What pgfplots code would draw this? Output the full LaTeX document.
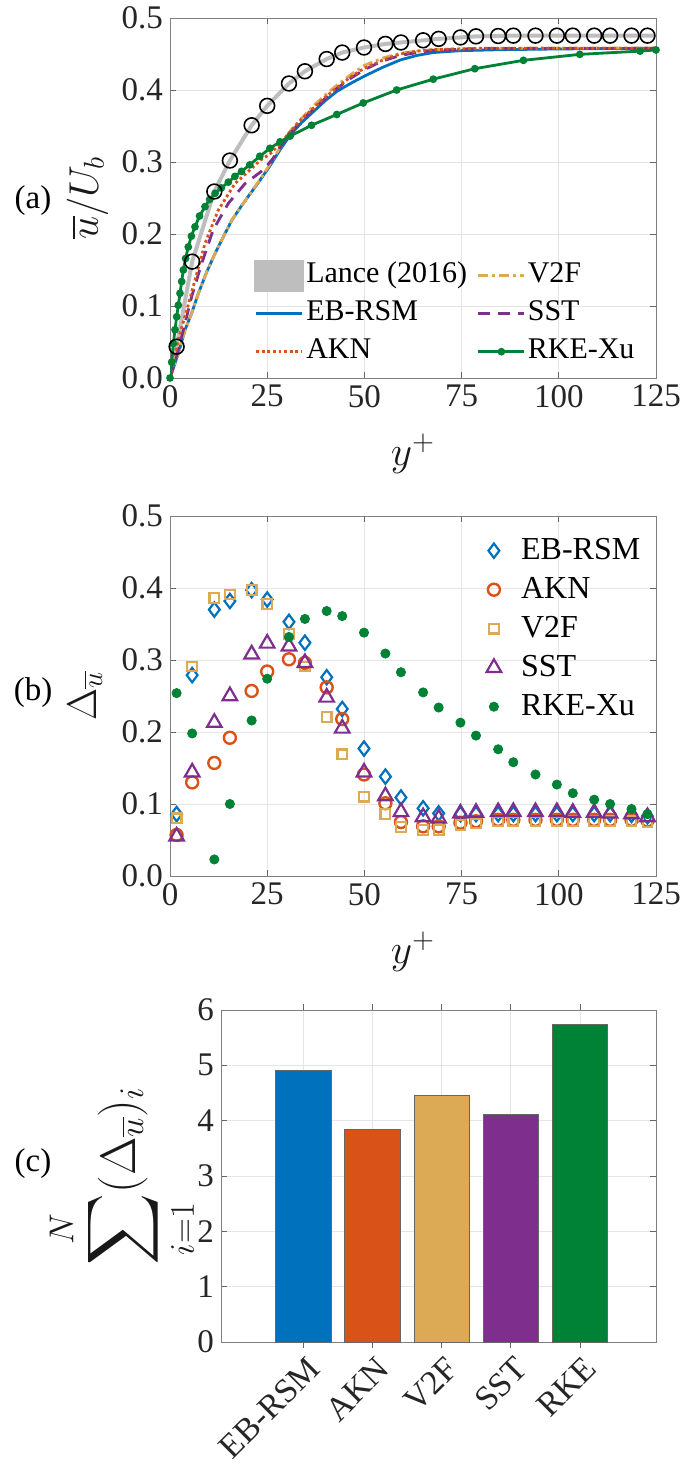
\documentclass[border=0pt]{standalone}
\usepackage{exscale}
\usepackage{fontspec}
\setmainfont{Liberation Serif}
\usepackage{pgfplots}
\pgfplotsset{compat=1.18}
\usepackage{pgfplotstable}

\definecolor{cblue}{HTML}{0072BD}
\definecolor{cred}{HTML}{D95319}
\definecolor{cyel}{HTML}{DCAA55}
\definecolor{cpur}{HTML}{7E2F8E}
\definecolor{cgrn}{HTML}{008236}
\definecolor{lgray}{HTML}{BEBEBE}

\pgfplotstableread{
x      eb     akn    v2f    sst    rke
1.7    0.086  0.057  0.080  0.055  0.254
5.7    0.279  0.130  0.291  0.144  0.198
11.4   0.370  0.157  0.386  0.213  0.023
15.4   0.382  0.192  0.391  0.250  0.100
21.0   0.397  0.257  0.397  0.308  0.216
25.0   0.384  0.284  0.378  0.323  0.274
30.6   0.353  0.301  0.336  0.319  0.332
34.7   0.324  0.296  0.291  0.296  0.357
40.3   0.276  0.262  0.221  0.248  0.368
44.3   0.232  0.218  0.169  0.205  0.361
49.9   0.177  0.141  0.110  0.144  0.338
55.4   0.138  0.101  0.086  0.111  0.309
59.4   0.109  0.075  0.068  0.089  0.283
65.1   0.094  0.069  0.064  0.082  0.255
69.1   0.087  0.069  0.064  0.080  0.234
74.7   0.086  0.074  0.071  0.087  0.213
78.7   0.086  0.076  0.073  0.088  0.195
84.4   0.086  0.078  0.076  0.089  0.176
88.3   0.086  0.078  0.076  0.089  0.158
94.0   0.086  0.078  0.076  0.089  0.141
99.5   0.086  0.078  0.076  0.089  0.127
103.6  0.086  0.078  0.076  0.088  0.115
109.1  0.086  0.078  0.076  0.088  0.106
113.2  0.086  0.078  0.076  0.087  0.100
118.7  0.085  0.078  0.076  0.086  0.093
122.8  0.083  0.077  0.075  0.082  0.086
}\deltatab

\pgfplotsset{
  mystyle/.style={
    scale only axis,
    axis line style={black!50},
    every tick/.style={black!60, line width=0.4pt},
    major tick length=3pt,
    tick align=inside,
    grid=major,
    grid style={black!10, line width=0.4pt},
    tick label style={font=\fontsize{16.5}{16.5}\selectfont, text=black!85},
    /pgf/number format/assume math mode=true,
    label style={font=\fontsize{22}{22}\selectfont, text=black!90},
  },
  yfmt/.style={yticklabel style={/pgf/number format/.cd,fixed,fixed zerofill,precision=1}},
}

\begin{document}
\begin{tikzpicture}
\useasboundingbox (0pt,0pt) rectangle (345.5pt,-733pt);

% ---------- (a) ----------
\begin{axis}[mystyle, yfmt,
  at={(85pt,-9pt)}, anchor=north west, width=243pt, height=180pt,
  xmin=0, xmax=125, ymin=0, ymax=0.5,
  xtick={0,25,50,75,100,125}, ytick={0,0.1,0.2,0.3,0.4,0.5},
  xlabel={$y^+$}, ylabel={$\overline{u}/U_b$},
  xlabel style={at={(axis description cs:0.5,-0.21)},anchor=center},
  ylabel style={at={(axis description cs:-0.17,0.5)},anchor=center},
  legend style={at={(rel axis cs:0.973,0.008)}, anchor=south east, draw=none, fill=none,
    font=\fontsize{15}{15}\selectfont, legend columns=2,
    /tikz/every even column/.append style={column sep=4pt},
    nodes={text height=10.5pt,text depth=3.5pt,inner ysep=2.5pt,inner xsep=1pt}},
  legend cell align=left,
  legend image code/.code={\draw[mark repeat=2,mark phase=2] plot coordinates {(0pt,0pt) (11.5pt,0pt) (23pt,0pt)};},
]
% legend entries (row-wise order)
\addlegendimage{lgray, line width=2pt, legend image code/.code={\fill[lgray] (0pt,-7pt) rectangle (23pt,7pt);}}
\addlegendentry{Lance (2016)}
\addlegendimage{cyel, line width=1.4pt, dash pattern=on 5pt off 2pt on 1.4pt off 2pt}
\addlegendentry{V2F}
\addlegendimage{cblue, line width=1.4pt}
\addlegendentry{EB-RSM}
\addlegendimage{cpur, line width=1.4pt, dash pattern=on 6pt off 4pt}
\addlegendentry{SST}
\addlegendimage{cred, line width=1.4pt, dash pattern=on 1.4pt off 1.4pt}
\addlegendentry{AKN}
\addlegendimage{cgrn, line width=1.4pt, mark=*, mark size=1.2pt}
\addlegendentry{RKE-Xu}

% Lance line
\addplot[lgray, line width=2pt, forget plot] coordinates {
(0,0) (1.7,0.0435) (5.7,0.1616) (11.4,0.259) (15.4,0.302) (21.0,0.351) (25.0,0.378)
(30.6,0.409) (34.7,0.426) (40.3,0.443) (44.3,0.452) (49.9,0.459) (55.4,0.464) (59.4,0.466)
(65.1,0.469) (69.1,0.471) (74.7,0.473) (78.7,0.4745) (84.4,0.475) (88.3,0.4755) (94.0,0.4755)
(99.5,0.4755) (103.6,0.4755) (109.1,0.4755) (113.2,0.4755) (118.7,0.4755) (122.8,0.4755) (125,0.4755)};
% EB-RSM
\addplot[cblue, line width=1.4pt, forget plot] coordinates {
(0,0) (1.29,0.0204) (2.57,0.042) (3.86,0.0667) (5.5,0.089) (7.3,0.1176) (9.5,0.148) (11.6,0.173)
(13.8,0.197) (15.9,0.219) (18,0.236) (20.1,0.252) (22.8,0.272) (25.5,0.293) (28.2,0.316)
(30.9,0.3375) (33.9,0.355) (36.9,0.370) (39.9,0.385) (42.9,0.398) (46.4,0.409) (49.9,0.419)
(54.5,0.431) (59.2,0.4417) (63.5,0.448) (67.7,0.452) (74.6,0.4546) (85,0.456) (100,0.457) (125,0.458)};
% V2F
\addplot[cyel, line width=1.4pt, dash pattern=on 5pt off 2pt on 1.4pt off 2pt, forget plot] coordinates {
(0,0) (1.29,0.0204) (2.57,0.042) (3.86,0.0667) (5.5,0.089) (7.3,0.1176) (9.5,0.148) (11.6,0.173)
(13.8,0.197) (15.9,0.219) (18,0.236) (20.1,0.252) (22.8,0.273) (25.5,0.295) (28.2,0.319)
(30.9,0.343) (33.9,0.361) (36.9,0.378) (39.9,0.393) (42.9,0.4065) (46.4,0.421) (49.9,0.434)
(54.5,0.444) (59.2,0.451) (63.5,0.454) (67.7,0.456) (80,0.458) (125,0.4585)};
% SST
\addplot[cpur, line width=1.4pt, dash pattern=on 6pt off 4pt, forget plot] coordinates {
(0,0) (1.0,0.017) (2.2,0.04) (3.43,0.0667) (5.57,0.113) (8.14,0.159) (11.1,0.2056) (15.0,0.2426)
(19.3,0.27) (24.0,0.289) (26.5,0.305) (28.5,0.322) (30.9,0.34) (33.9,0.358) (36.9,0.373)
(39.9,0.388) (42.9,0.402) (46.4,0.416) (49.9,0.428) (54.5,0.44) (59.2,0.448) (63.5,0.452)
(67.7,0.455) (80,0.4575) (125,0.4575)};
% AKN
\addplot[cred, line width=1.4pt, dash pattern=on 1.4pt off 1.4pt, forget plot] coordinates {
(0,0) (0.43,0.011) (1.3,0.033) (2.57,0.062) (4.3,0.094) (6.43,0.136) (9.0,0.187) (12.4,0.233)
(16.7,0.27) (20.6,0.289) (23.1,0.302) (25.7,0.311) (28.3,0.325) (30.9,0.342) (33.9,0.36)
(36.9,0.375) (39.9,0.39) (42.9,0.403) (46.4,0.418) (49.9,0.43) (54.5,0.441) (59.2,0.45)
(63.5,0.454) (67.7,0.456) (80,0.458) (125,0.458)};
% RKE-Xu
\addplot[cgrn, line width=1.4pt, mark=*, mark size=1.2pt, forget plot] coordinates {
(0,0) (0.43,0.022) (0.86,0.048) (1.29,0.067) (1.71,0.085) (2.14,0.101) (2.57,0.1176) (3.0,0.134)
(3.43,0.15) (4.0,0.166) (4.7,0.182) (5.5,0.197) (6.43,0.21) (7.6,0.225) (9.0,0.238) (10.2,0.248)
(11.6,0.2565) (13.2,0.264) (15.0,0.272) (16.7,0.28) (18.4,0.287) (20.5,0.296) (23.1,0.308)
(25.7,0.319) (28.3,0.328) (30.9,0.336) (36.4,0.351) (42.9,0.366) (49.7,0.382) (58.3,0.400)
(67.7,0.415) (78.4,0.4296) (90.9,0.4412) (105.4,0.4495) (120.9,0.454) (125,0.4556)};
% Lance circles
\addplot[only marks, mark=o, mark size=3.7pt, black, line width=0.8pt, forget plot] coordinates {
(1.7,0.0435) (5.7,0.1616) (11.4,0.259) (15.4,0.302) (21.0,0.351) (25.0,0.378)
(30.6,0.409) (34.7,0.426) (40.3,0.443) (44.3,0.452) (49.9,0.459) (55.4,0.464) (59.4,0.466)
(65.1,0.469) (69.1,0.471) (74.7,0.473) (78.7,0.4745) (84.4,0.475) (88.3,0.4755) (94.0,0.4755)
(99.5,0.4755) (103.6,0.4755) (109.1,0.4755) (113.2,0.4755) (118.7,0.4755) (122.8,0.4755)};
\end{axis}

% ---------- (b) ----------
\begin{axis}[mystyle, yfmt,
  at={(85pt,-258pt)}, anchor=north west, width=243pt, height=180pt,
  xmin=0, xmax=125, ymin=0, ymax=0.5,
  xtick={0,25,50,75,100,125}, ytick={0,0.1,0.2,0.3,0.4,0.5},
  xlabel={$y^+$}, ylabel={$\Delta_{\overline{u}}$},
  xlabel style={at={(axis description cs:0.5,-0.21)},anchor=center},
  ylabel style={at={(axis description cs:-0.175,0.5)},anchor=center},
  legend style={at={(rel axis cs:0.989,0.97)}, anchor=north east, draw=none, fill=none,
    font=\fontsize{16}{16}\selectfont,
    nodes={text height=12pt,text depth=3.5pt,inner ysep=2pt,inner xsep=2pt}},
  legend cell align=left,
  legend image code/.code={\draw plot coordinates {(9pt,0pt)}; \path (0pt,0pt) (20pt,0pt);},
]
\addplot[only marks, mark=diamond, mark size=3.6pt, cblue, line width=1.1pt] table[x=x,y=eb] {\deltatab};
\addlegendentry{EB-RSM}
\addplot[only marks, mark=o, mark size=3pt, cred, line width=1.2pt] table[x=x,y=akn] {\deltatab};
\addlegendentry{AKN}
\addplot[only marks, mark=square, mark size=2.4pt, cyel, line width=1.1pt] table[x=x,y=v2f] {\deltatab};
\addlegendentry{V2F}
\addplot[only marks, mark=triangle, mark size=4.2pt, cpur, line width=1.1pt] table[x=x,y=sst] {\deltatab};
\addlegendentry{SST}
\addplot[only marks, mark=*, mark size=2.3pt, cgrn] table[x=x,y=rke] {\deltatab};
\addlegendentry{RKE-Xu}
\end{axis}

% ---------- (c) ----------
\begin{axis}[mystyle,
  at={(110.5pt,-505pt)}, anchor=north west, width=217.5pt, height=166pt,
  xmin=-0.19, xmax=6.1, ymin=0, ymax=6,
  ytick={0,1,2,3,4,5,6},
  xtick={1,2,3,4,5}, xticklabels={EB-RSM,AKN,V2F,SST,RKE},
  xticklabel style={font=\fontsize{17}{17}\selectfont, rotate=45, anchor=north east, xshift=2pt},
  ybar, bar width=0.8,
  ylabel={$\displaystyle\sum_{i=1}^{N}(\Delta_{\overline{u}})_i$},
  ylabel style={at={(axis description cs:-0.228,0.5)},anchor=center, font=\fontsize{23}{23}\selectfont},
]
\addplot[fill=cblue, draw=black!60, bar shift=0pt] coordinates {(1,4.91)};
\addplot[fill=cred, draw=black!60, bar shift=0pt] coordinates {(2,3.84)};
\addplot[fill=cyel, draw=black!60, bar shift=0pt] coordinates {(3,4.45)};
\addplot[fill=cpur, draw=black!60, bar shift=0pt] coordinates {(4,4.11)};
\addplot[fill=cgrn, draw=black!60, bar shift=0pt] coordinates {(5,5.74)};
\end{axis}

% panel labels
\node[font=\fontsize{16.5}{16.5}\selectfont] at (16.5pt,-100.5pt) {(a)};
\node[font=\fontsize{16.5}{16.5}\selectfont] at (16.5pt,-346.5pt) {(b)};
\node[font=\fontsize{16.5}{16.5}\selectfont] at (16.5pt,-582pt) {(c)};
\end{tikzpicture}
\end{document}
